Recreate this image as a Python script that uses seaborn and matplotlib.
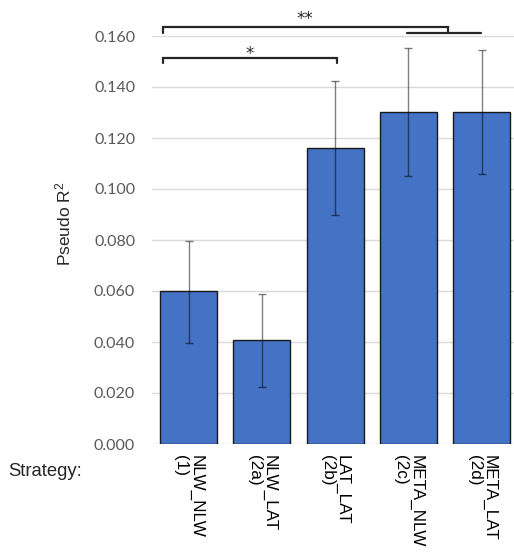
import matplotlib
matplotlib.use("Agg")
import matplotlib.pyplot as plt
import seaborn as sns
import pandas as pd
import numpy as np

# ---- data ----
strategies = ["NLW_NLW\n(1)", "NLW_LAT\n(2a)", "LAT_LAT\n(2b)", "META_NLW\n(2c)", "META_LAT\n(2d)"]
pseudo_r2 = [0.0600, 0.0408, 0.1162, 0.1303, 0.1303]
ci_low = [0.0398, 0.0224, 0.0897, 0.1052, 0.1058]
ci_high = [0.0798, 0.0588, 0.1424, 0.1553, 0.1547]
yticks = [0.000, 0.020, 0.040, 0.060, 0.080, 0.100, 0.120, 0.140, 0.160]

sns.set_style("white")
plt.rcParams["font.family"] = ["Liberation Sans", "DejaVu Sans"]
plt.rcParams["mathtext.fontset"] = "custom"
plt.rcParams["mathtext.rm"] = "Liberation Sans"
plt.rcParams["mathtext.it"] = "Liberation Sans:italic"

df = pd.DataFrame({"Strategy": strategies, "R2": pseudo_r2})

fig = plt.figure(figsize=(5.14, 5.52), dpi=100)
ax = fig.add_axes([151.9 / 514, 108 / 552, 366.5 / 514, 408 / 552])

sns.barplot(data=df, x="Strategy", y="R2", color="#4472C4", saturation=1,
            width=0.78, edgecolor="#1a1a1a", linewidth=1.0, errorbar=None,
            ax=ax, zorder=2)

xs = np.arange(len(strategies))
vals = np.array(pseudo_r2)
lo = vals - np.array(ci_low)
hi = np.array(ci_high) - vals
ax.errorbar(xs, vals, yerr=[lo, hi], fmt="none", ecolor="black", alpha=0.5,
            elinewidth=1.0, capsize=3, capthick=1.0, zorder=3)

ax.set_ylim(0, 0.16)
ax.set_xlim(-0.5, 4.5)
ax.set_yticks(yticks)
ax.set_yticklabels([f"{t:.3f}" for t in yticks], fontfamily="Lato",
                   fontsize=11.5, color="#595959")
ax.yaxis.grid(True, color="#d9d9d9", linewidth=1.0, zorder=0)
ax.set_axisbelow(True)
for s in ax.spines.values():
    s.set_visible(False)
ax.tick_params(axis="y", length=0, pad=12)
ax.tick_params(axis="x", length=0, pad=8)
ax.set_xticks(xs)
ax.set_xticklabels(strategies, rotation=-90, fontsize=12.3, color="black",
                   ha="center", va="top", multialignment="left",
                   linespacing=1.0)
ax.set_xlabel("")
ax.set_ylabel("")

fig.text(63 / 514, 1 - 224 / 552, "Pseudo R$^2$", rotation=90, ha="center",
         va="center", fontsize=12.5)
fig.text(8 / 514, 1 - 471 / 552, "Strategy:", ha="left", va="center",
         fontsize=13.3)

# significance brackets
bc = "#262626"
ax.plot([-0.349, -0.349, 3.535, 3.535], [0.1611, 0.1634, 0.1634, 0.1611],
        color=bc, lw=1.6, clip_on=False, solid_joinstyle="miter")
ax.plot([2.976, 3.99], [0.1611, 0.1611], color=bc, lw=1.6, clip_on=False)
ax.plot([-0.344, -0.344, 2.02, 2.02], [0.1493, 0.1512, 0.1512, 0.1493],
        color=bc, lw=1.6, clip_on=False, solid_joinstyle="miter")
ax.text(1.58, 0.1646, "**", ha="center", va="baseline", fontsize=12,
        fontfamily="DejaVu Sans", color=bc, clip_on=False)
ax.text(0.83, 0.1508, "*", ha="center", va="baseline", fontsize=12,
        fontfamily="DejaVu Sans", color=bc, clip_on=False)

fig.savefig("out.png", dpi=100)
